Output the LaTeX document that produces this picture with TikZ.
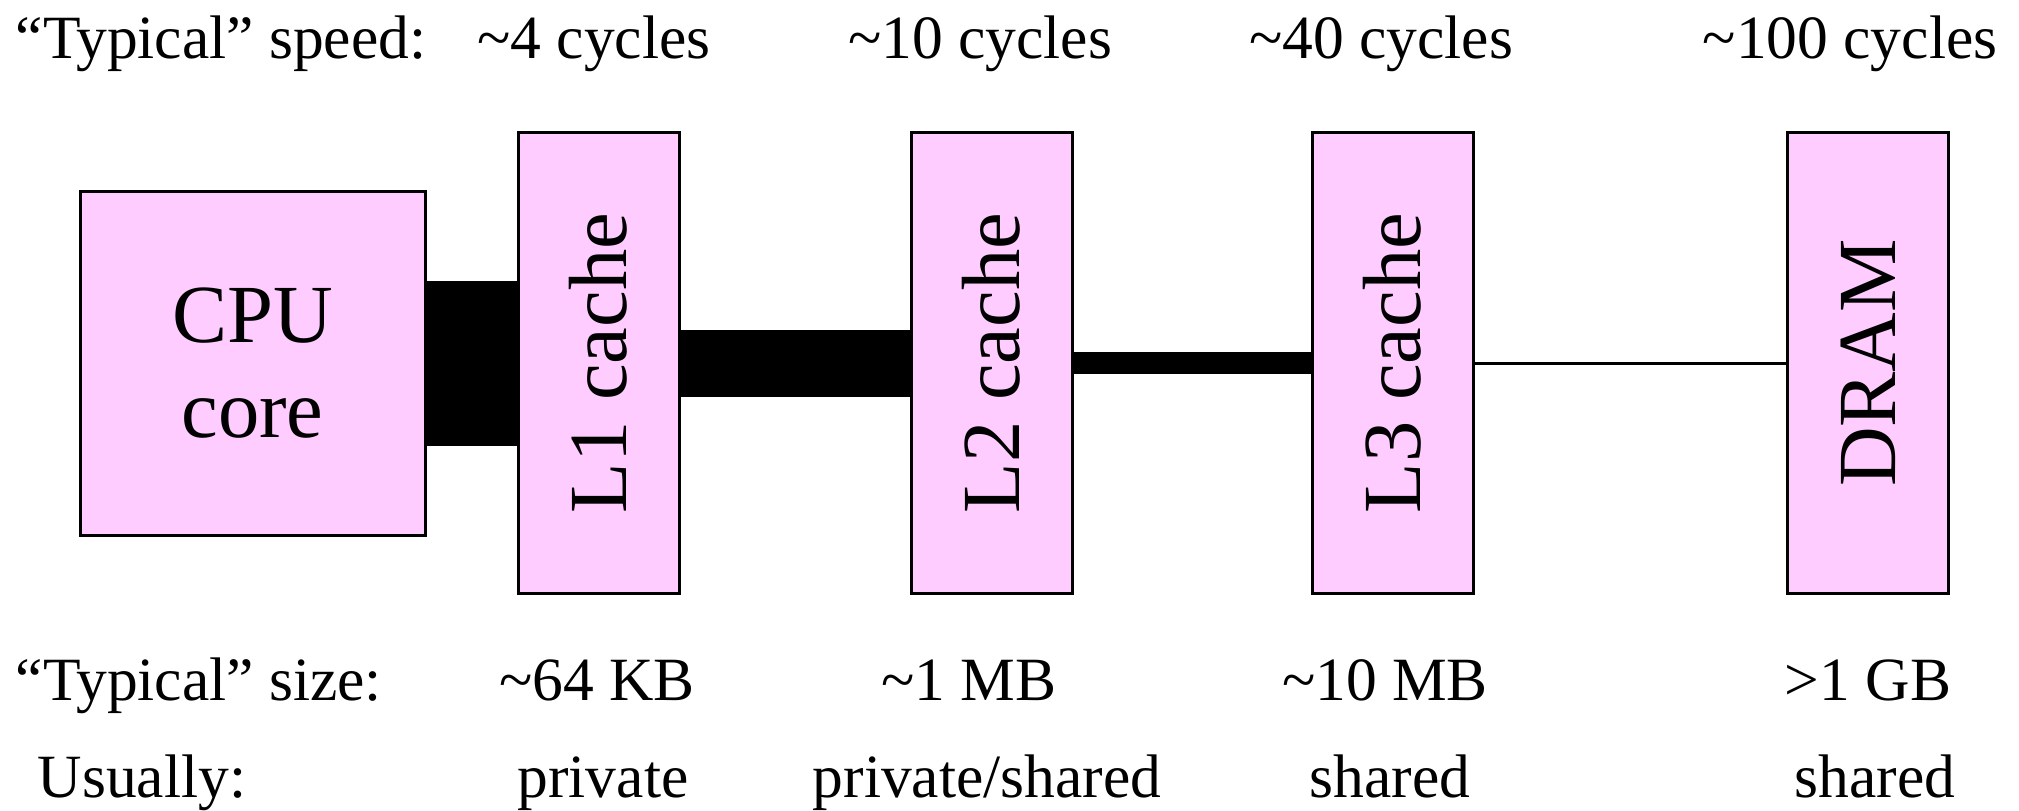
\documentclass[tikz,border=0pt]{standalone}
\usepackage{fontspec}
\setmainfont{Liberation Serif}
\definecolor{cachepink}{RGB}{255,204,255}
\tikzset{
  membox/.style={draw=black, line width=0.3mm, fill=cachepink, inner sep=0pt,
    font=\fontsize{23.5}{27}\selectfont},
  lbl/.style={anchor=base, inner sep=0pt, font=\fontsize{17.5}{21}\selectfont},
  rowhead/.style={lbl, anchor=base west},
  bus/.style={line width=#1},
}
\begin{document}
\begin{tikzpicture}[x=0.1mm,y=-0.1mm]
\useasboundingbox (0,0) rectangle (2019,810);

% core, caches and memory
\node[membox, minimum width=34.5mm, minimum height=34.4mm, align=center] (cpu) at (252.5,363) {CPU\\core};
\node[membox, minimum width=16.1mm, minimum height=46.1mm] (l1) at (598.5,363) {\rotatebox{90}{L1 cache}};
\node[membox, minimum width=16.1mm, minimum height=46.1mm] (l2) at (991.5,363) {\rotatebox{90}{L2 cache}};
\node[membox, minimum width=16.1mm, minimum height=46.1mm] (l3) at (1392.5,363) {\rotatebox{90}{L3 cache}};
\node[membox, minimum width=16.1mm, minimum height=46.1mm] (dram) at (1868,363) {\rotatebox{90}{DRAM}};

% bandwidth between levels
\draw[bus=16.5mm] (cpu) -- (l1);
\draw[bus=6.7mm] (l1) -- (l2);
\draw[bus=2.2mm] (l2) -- (l3);
\draw[bus=0.3mm] (l3) -- (dram);

% latency
\node[rowhead] (speedhead) at (15,58) {“Typical” speed:};
\node[lbl] (l1speed) at (594,58) {\textasciitilde4 cycles};
\node[lbl] (l2speed) at (980,58) {\textasciitilde10 cycles};
\node[lbl] (l3speed) at (1381,58) {\textasciitilde40 cycles};
\node[lbl] (dramspeed) at (1850,58) {\textasciitilde100 cycles};

% capacity
\node[rowhead] (sizehead) at (15,700) {“Typical” size:};
\node[lbl] (l1size) at (597,700) {\textasciitilde64 KB};
\node[lbl] (l2size) at (969,700) {\textasciitilde1 MB};
\node[lbl] (l3size) at (1385,700) {\textasciitilde10 MB};
\node[lbl] (dramsize) at (1868,700) {>1 GB};

% sharing
\node[rowhead] (sharehead) at (37,797) {Usually:};
\node[lbl] (l1share) at (603,797) {private};
\node[lbl] (l2share) at (987,797) {private/shared};
\node[lbl] (l3share) at (1390,797) {shared};
\node[lbl] (dramshare) at (1875,797) {shared};
\end{tikzpicture}
\end{document}
